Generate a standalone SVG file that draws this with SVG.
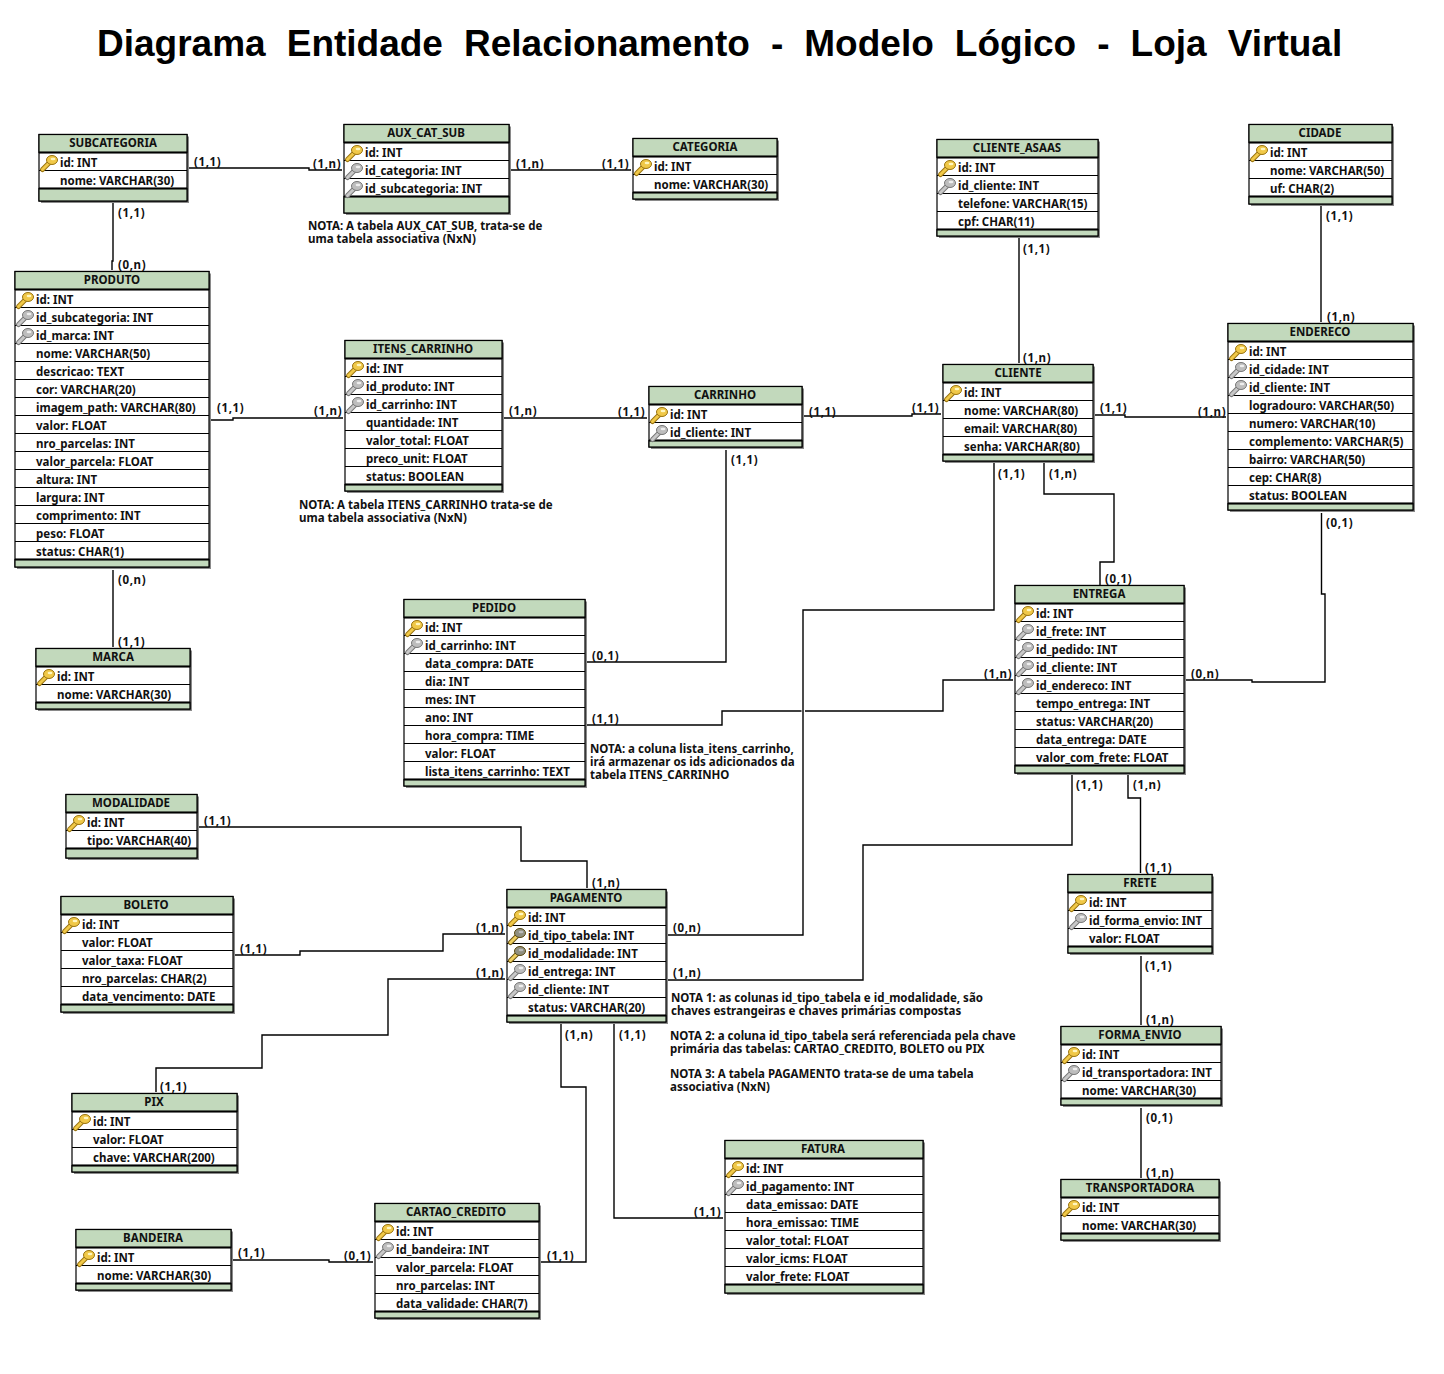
<svg xmlns="http://www.w3.org/2000/svg" xmlns:xlink="http://www.w3.org/1999/xlink" width="1444" height="1374" viewBox="0 0 1444 1374">
<style>
text{font-family:"Noto Sans","Liberation Sans",sans-serif;font-weight:700;font-size:11.5px;fill:#111}
.title{font-family:"Liberation Sans",Arial,sans-serif;font-size:37px;word-spacing:10.8px;fill:#000}
#labels text{letter-spacing:.6px}
.h{text-anchor:middle}
.sh{fill:#8a8a8a}
.bd{fill:#fff;stroke:#000;stroke-width:1.2}
.hd{fill:#c2d9bc;stroke:#000;stroke-width:1.2}
.thin{fill:none;stroke:#000;stroke-width:1.2}
.thick{fill:none;stroke:#000;stroke-width:2.2}
#connectors path{fill:none;stroke:#000;stroke-width:1.4}
.kp{stroke:#9a7410;fill:#f0c848}
.kf{stroke:#777;fill:#bdbdbd}
</style>
<defs>
<g id="pk"><path d="M1.5 6.5 L8 0" stroke="#9a7410" stroke-width="5" stroke-linecap="round" fill="none"/><path d="M1.5 6.5 L8 0" stroke="#f0c848" stroke-width="3" stroke-linecap="round" fill="none"/><ellipse class="kp" cx="11" cy="-3" rx="5.5" ry="4.5"/><ellipse cx="12" cy="-4" rx="2.4" ry="1.3" fill="#fff6c0"/></g>
<g id="fk"><path d="M1.5 6.5 L8 0" stroke="#777" stroke-width="5" stroke-linecap="round" fill="none"/><path d="M1.5 6.5 L8 0" stroke="#c8c8c8" stroke-width="3" stroke-linecap="round" fill="none"/><ellipse class="kf" cx="11" cy="-3" rx="5.5" ry="4.5"/><ellipse cx="12" cy="-4" rx="2.4" ry="1.3" fill="#eee"/></g>
<g id="pf"><path d="M1.5 6.5 L8 0" stroke="#6b5410" stroke-width="5" stroke-linecap="round" fill="none"/><path d="M1.5 6.5 L8 0" stroke="#f0d060" stroke-width="3" stroke-linecap="round" fill="none"/><ellipse cx="11" cy="-3" rx="5.5" ry="4.5" fill="#8f8f80" stroke="#5b4a10"/><ellipse cx="12" cy="-4" rx="2.4" ry="1.3" fill="#bbb"/></g>
</defs>
<rect width="1444" height="1374" fill="#fff"/>
<text class="title" x="97" y="56">Diagrama Entidade Relacionamento - Modelo Lógico - Loja Virtual</text>

<g id="connectors">
<path d="M189 168H309V170H342"/>
<path d="M113 203V261H112V270"/>
<path d="M511 170H631"/>
<path d="M1019 238V363"/>
<path d="M1321 206V322"/>
<path d="M211 420H233V418H343"/>
<path d="M504 418H647"/>
<path d="M804 416H912V414H941"/>
<path d="M1095 415H1125V417H1226"/>
<path d="M113 570V647"/>
<path d="M726 450V662H587"/>
<path d="M587 725H722V711H801.5M805 711H943V680H1013"/>
<path d="M994 463V610H803V935H668"/>
<path d="M1044 463V494H1114V562H1100V585"/>
<path d="M1321.5 513V594H1325V682H1252V680H1186"/>
<path d="M1072 775V845H863V980H668"/>
<path d="M1128 775V798H1140.5V873"/>
<path d="M1141 956V1025"/>
<path d="M1141 1108V1178"/>
<path d="M199 827H521V861H587V888"/>
<path d="M235 955H300V951H443V934H505"/>
<path d="M505 979H388V1035H262V1068H156V1092"/>
<path d="M561 1024V1087H586V1262H541"/>
<path d="M614 1024V1218H723"/>
<path d="M233 1260H329V1262H373"/>
</g>

<g id="labels">
<text x="194" y="166">(1,1)</text><text x="313" y="168">(1,n)</text><text x="118" y="217">(1,1)</text><text x="118" y="269">(0,n)</text>
<text x="516" y="168">(1,n)</text><text x="602" y="168">(1,1)</text><text x="1023" y="253">(1,1)</text><text x="1023" y="362">(1,n)</text>
<text x="1326" y="220">(1,1)</text><text x="1327" y="321">(1,n)</text><text x="217" y="412">(1,1)</text><text x="314" y="415">(1,n)</text>
<text x="509" y="415">(1,n)</text><text x="618" y="416">(1,1)</text><text x="809" y="416">(1,1)</text><text x="912" y="412">(1,1)</text>
<text x="1100" y="412">(1,1)</text><text x="1198" y="416">(1,n)</text><text x="731" y="464">(1,1)</text><text x="998" y="478">(1,1)</text>
<text x="1049" y="478">(1,n)</text><text x="1105" y="583">(0,1)</text><text x="1326" y="527">(0,1)</text><text x="118" y="584">(0,n)</text>
<text x="118" y="646">(1,1)</text><text x="592" y="660">(0,1)</text><text x="592" y="723">(1,1)</text><text x="984" y="678">(1,n)</text>
<text x="1191" y="678">(0,n)</text><text x="1076" y="789">(1,1)</text><text x="1133" y="789">(1,n)</text><text x="1145" y="872">(1,1)</text>
<text x="1145" y="970">(1,1)</text><text x="1146" y="1024">(1,n)</text><text x="1146" y="1122">(0,1)</text><text x="1146" y="1177">(1,n)</text>
<text x="204" y="825">(1,1)</text><text x="592" y="887">(1,n)</text><text x="240" y="953">(1,1)</text><text x="476" y="932">(1,n)</text>
<text x="476" y="977">(1,n)</text><text x="673" y="932">(0,n)</text><text x="673" y="977">(1,n)</text><text x="565" y="1039">(1,n)</text>
<text x="619" y="1039">(1,1)</text><text x="160" y="1091">(1,1)</text><text x="238" y="1257">(1,1)</text><text x="344" y="1260">(0,1)</text>
<text x="547" y="1260">(1,1)</text><text x="694" y="1216">(1,1)</text>
</g>

<g id="notes">
<text x="308" y="230">NOTA: A tabela AUX_CAT_SUB, trata-se de</text><text x="308" y="243">uma tabela associativa (NxN)</text>
<text x="299" y="509">NOTA: A tabela ITENS_CARRINHO trata-se de</text><text x="299" y="522">uma tabela associativa (NxN)</text>
<text x="590" y="753">NOTA: a coluna lista_itens_carrinho,</text><text x="590" y="766">irá armazenar os ids adicionados da</text><text x="590" y="779">tabela ITENS_CARRINHO</text>
<text x="671" y="1002">NOTA 1: as colunas id_tipo_tabela e id_modalidade, são</text><text x="671" y="1015">chaves estrangeiras e chaves primárias compostas</text>
<text x="670" y="1040">NOTA 2: a coluna id_tipo_tabela será referenciada pela chave</text><text x="670" y="1053">primária das tabelas: CARTAO_CREDITO, BOLETO ou PIX</text>
<text x="670" y="1078">NOTA 3: A tabela PAGAMENTO trata-se de uma tabela</text><text x="670" y="1091">associativa (NxN)</text>
</g>

<g id="subcategoria"><rect class="sh" x="41" y="136.5" width="148" height="66.5"/><rect class="bd" x="39" y="134.5" width="148" height="66.5"/><rect class="hd" x="39" y="134.5" width="148" height="18"/><rect class="hd" x="39" y="188.5" width="148" height="12.5"/><path class="thin" d="M39 170.5H187"/><path class="thick" d="M39 152.5H187M39 188.5H187"/>
<text class="h" x="113" y="147">SUBCATEGORIA</text><use href="#pk" x="41" y="163"/><text x="60" y="167">id: INT</text><text x="60" y="185">nome: VARCHAR(30)</text></g>

<g id="aux_cat_sub"><rect class="sh" x="346" y="126.5" width="165" height="88.5"/><rect class="bd" x="344" y="124.5" width="165" height="88.5"/><rect class="hd" x="344" y="124.5" width="165" height="18"/><rect class="hd" x="344" y="196.5" width="165" height="16.5"/><path class="thin" d="M344 160.5H509M344 178.5H509"/><path class="thick" d="M344 142.5H509M344 196.5H509"/>
<text class="h" x="426" y="137">AUX_CAT_SUB</text><use href="#pk" x="346" y="153"/><use href="#fk" x="346" y="171"/><use href="#fk" x="346" y="189"/><text x="365" y="157">id: INT</text><text x="365" y="175">id_categoria: INT</text><text x="365" y="193">id_subcategoria: INT</text></g>

<g id="categoria"><rect class="sh" x="635" y="140.5" width="144" height="60.5"/><rect class="bd" x="633" y="138.5" width="144" height="60.5"/><rect class="hd" x="633" y="138.5" width="144" height="18"/><rect class="hd" x="633" y="192.5" width="144" height="6.5"/><path class="thin" d="M633 174.5H777"/><path class="thick" d="M633 156.5H777M633 192.5H777"/>
<text class="h" x="705" y="151">CATEGORIA</text><use href="#pk" x="635" y="167"/><text x="654" y="171">id: INT</text><text x="654" y="189">nome: VARCHAR(30)</text></g>

<g id="cliente_asaas"><rect class="sh" x="939" y="141.5" width="161" height="96.5"/><rect class="bd" x="937" y="139.5" width="161" height="96.5"/><rect class="hd" x="937" y="139.5" width="161" height="18"/><rect class="hd" x="937" y="229.5" width="161" height="6.5"/><path class="thin" d="M937 175.5H1098M937 193.5H1098M937 211.5H1098"/><path class="thick" d="M937 157.5H1098M937 229.5H1098"/>
<text class="h" x="1017" y="152">CLIENTE_ASAAS</text><use href="#pk" x="939" y="168"/><use href="#fk" x="939" y="186"/><text x="958" y="172">id: INT</text><text x="958" y="190">id_cliente: INT</text><text x="958" y="208">telefone: VARCHAR(15)</text><text x="958" y="226">cpf: CHAR(11)</text></g>

<g id="cidade"><rect class="sh" x="1251" y="126.5" width="143" height="79.5"/><rect class="bd" x="1249" y="124.5" width="143" height="79.5"/><rect class="hd" x="1249" y="124.5" width="143" height="18"/><rect class="hd" x="1249" y="196.5" width="143" height="7.5"/><path class="thin" d="M1249 160.5H1392M1249 178.5H1392"/><path class="thick" d="M1249 142.5H1392M1249 196.5H1392"/>
<text class="h" x="1320" y="137">CIDADE</text><use href="#pk" x="1251" y="153"/><text x="1270" y="157">id: INT</text><text x="1270" y="175">nome: VARCHAR(50)</text><text x="1270" y="193">uf: CHAR(2)</text></g>

<g id="produto"><rect class="sh" x="17" y="273.5" width="194" height="295.5"/><rect class="bd" x="15" y="271.5" width="194" height="295.5"/><rect class="hd" x="15" y="271.5" width="194" height="18"/><rect class="hd" x="15" y="559.5" width="194" height="7.5"/><path class="thin" d="M15 307.5H209M15 325.5H209M15 343.5H209M15 361.5H209M15 379.5H209M15 397.5H209M15 415.5H209M15 433.5H209M15 451.5H209M15 469.5H209M15 487.5H209M15 505.5H209M15 523.5H209M15 541.5H209"/><path class="thick" d="M15 289.5H209M15 559.5H209"/>
<text class="h" x="112" y="284">PRODUTO</text><use href="#pk" x="17" y="300"/><use href="#fk" x="17" y="318"/><use href="#fk" x="17" y="336"/>
<text x="36" y="304">id: INT</text><text x="36" y="322">id_subcategoria: INT</text><text x="36" y="340">id_marca: INT</text><text x="36" y="358">nome: VARCHAR(50)</text><text x="36" y="376">descricao: TEXT</text><text x="36" y="394">cor: VARCHAR(20)</text><text x="36" y="412">imagem_path: VARCHAR(80)</text><text x="36" y="430">valor: FLOAT</text><text x="36" y="448">nro_parcelas: INT</text><text x="36" y="466">valor_parcela: FLOAT</text><text x="36" y="484">altura: INT</text><text x="36" y="502">largura: INT</text><text x="36" y="520">comprimento: INT</text><text x="36" y="538">peso: FLOAT</text><text x="36" y="556">status: CHAR(1)</text></g>

<g id="itens_carrinho"><rect class="sh" x="347" y="342.5" width="157" height="150.5"/><rect class="bd" x="345" y="340.5" width="157" height="150.5"/><rect class="hd" x="345" y="340.5" width="157" height="18"/><rect class="hd" x="345" y="484.5" width="157" height="6.5"/><path class="thin" d="M345 376.5H502M345 394.5H502M345 412.5H502M345 430.5H502M345 448.5H502M345 466.5H502"/><path class="thick" d="M345 358.5H502M345 484.5H502"/>
<text class="h" x="423" y="353">ITENS_CARRINHO</text><use href="#pk" x="347" y="369"/><use href="#fk" x="347" y="387"/><use href="#fk" x="347" y="405"/>
<text x="366" y="373">id: INT</text><text x="366" y="391">id_produto: INT</text><text x="366" y="409">id_carrinho: INT</text><text x="366" y="427">quantidade: INT</text><text x="366" y="445">valor_total: FLOAT</text><text x="366" y="463">preco_unit: FLOAT</text><text x="366" y="481">status: BOOLEAN</text></g>

<g id="carrinho"><rect class="sh" x="651" y="388.5" width="153" height="60.5"/><rect class="bd" x="649" y="386.5" width="153" height="60.5"/><rect class="hd" x="649" y="386.5" width="153" height="18"/><rect class="hd" x="649" y="440.5" width="153" height="6.5"/><path class="thin" d="M649 422.5H802"/><path class="thick" d="M649 404.5H802M649 440.5H802"/>
<text class="h" x="725" y="399">CARRINHO</text><use href="#pk" x="651" y="415"/><use href="#fk" x="651" y="433"/><text x="670" y="419">id: INT</text><text x="670" y="437">id_cliente: INT</text></g>

<g id="cliente"><rect class="sh" x="945" y="366.5" width="150" height="96.5"/><rect class="bd" x="943" y="364.5" width="150" height="96.5"/><rect class="hd" x="943" y="364.5" width="150" height="18"/><rect class="hd" x="943" y="454.5" width="150" height="6.5"/><path class="thin" d="M943 400.5H1093M943 418.5H1093M943 436.5H1093"/><path class="thick" d="M943 382.5H1093M943 454.5H1093"/>
<text class="h" x="1018" y="377">CLIENTE</text><use href="#pk" x="945" y="393"/><text x="964" y="397">id: INT</text><text x="964" y="415">nome: VARCHAR(80)</text><text x="964" y="433">email: VARCHAR(80)</text><text x="964" y="451">senha: VARCHAR(80)</text></g>

<g id="endereco"><rect class="sh" x="1230" y="325.5" width="185" height="186.5"/><rect class="bd" x="1228" y="323.5" width="185" height="186.5"/><rect class="hd" x="1228" y="323.5" width="185" height="18"/><rect class="hd" x="1228" y="503.5" width="185" height="6.5"/><path class="thin" d="M1228 359.5H1413M1228 377.5H1413M1228 395.5H1413M1228 413.5H1413M1228 431.5H1413M1228 449.5H1413M1228 467.5H1413M1228 485.5H1413"/><path class="thick" d="M1228 341.5H1413M1228 503.5H1413"/>
<text class="h" x="1320" y="336">ENDERECO</text><use href="#pk" x="1230" y="352"/><use href="#fk" x="1230" y="370"/><use href="#fk" x="1230" y="388"/>
<text x="1249" y="356">id: INT</text><text x="1249" y="374">id_cidade: INT</text><text x="1249" y="392">id_cliente: INT</text><text x="1249" y="410">logradouro: VARCHAR(50)</text><text x="1249" y="428">numero: VARCHAR(10)</text><text x="1249" y="446">complemento: VARCHAR(5)</text><text x="1249" y="464">bairro: VARCHAR(50)</text><text x="1249" y="482">cep: CHAR(8)</text><text x="1249" y="500">status: BOOLEAN</text></g>

<g id="pedido"><rect class="sh" x="406" y="601.5" width="181" height="186.5"/><rect class="bd" x="404" y="599.5" width="181" height="186.5"/><rect class="hd" x="404" y="599.5" width="181" height="18"/><rect class="hd" x="404" y="779.5" width="181" height="6.5"/><path class="thin" d="M404 635.5H585M404 653.5H585M404 671.5H585M404 689.5H585M404 707.5H585M404 725.5H585M404 743.5H585M404 761.5H585"/><path class="thick" d="M404 617.5H585M404 779.5H585"/>
<text class="h" x="494" y="612">PEDIDO</text><use href="#pk" x="406" y="628"/><use href="#fk" x="406" y="646"/>
<text x="425" y="632">id: INT</text><text x="425" y="650">id_carrinho: INT</text><text x="425" y="668">data_compra: DATE</text><text x="425" y="686">dia: INT</text><text x="425" y="704">mes: INT</text><text x="425" y="722">ano: INT</text><text x="425" y="740">hora_compra: TIME</text><text x="425" y="758">valor: FLOAT</text><text x="425" y="776">lista_itens_carrinho: TEXT</text></g>

<g id="entrega"><rect class="sh" x="1017" y="587.5" width="169" height="187.5"/><rect class="bd" x="1015" y="585.5" width="169" height="187.5"/><rect class="hd" x="1015" y="585.5" width="169" height="18"/><rect class="hd" x="1015" y="765.5" width="169" height="7.5"/><path class="thin" d="M1015 621.5H1184M1015 639.5H1184M1015 657.5H1184M1015 675.5H1184M1015 693.5H1184M1015 711.5H1184M1015 729.5H1184M1015 747.5H1184"/><path class="thick" d="M1015 603.5H1184M1015 765.5H1184"/>
<text class="h" x="1099" y="598">ENTREGA</text><use href="#pk" x="1017" y="614"/><use href="#fk" x="1017" y="632"/><use href="#fk" x="1017" y="650"/><use href="#fk" x="1017" y="668"/><use href="#fk" x="1017" y="686"/>
<text x="1036" y="618">id: INT</text><text x="1036" y="636">id_frete: INT</text><text x="1036" y="654">id_pedido: INT</text><text x="1036" y="672">id_cliente: INT</text><text x="1036" y="690">id_endereco: INT</text><text x="1036" y="708">tempo_entrega: INT</text><text x="1036" y="726">status: VARCHAR(20)</text><text x="1036" y="744">data_entrega: DATE</text><text x="1036" y="762">valor_com_frete: FLOAT</text></g>

<g id="marca"><rect class="sh" x="38" y="650.5" width="154" height="60.5"/><rect class="bd" x="36" y="648.5" width="154" height="60.5"/><rect class="hd" x="36" y="648.5" width="154" height="18"/><rect class="hd" x="36" y="702.5" width="154" height="6.5"/><path class="thin" d="M36 684.5H190"/><path class="thick" d="M36 666.5H190M36 702.5H190"/>
<text class="h" x="113" y="661">MARCA</text><use href="#pk" x="38" y="677"/><text x="57" y="681">id: INT</text><text x="57" y="699">nome: VARCHAR(30)</text></g>

<g id="modalidade"><rect class="sh" x="68" y="796.5" width="131" height="63.5"/><rect class="bd" x="66" y="794.5" width="131" height="63.5"/><rect class="hd" x="66" y="794.5" width="131" height="18"/><rect class="hd" x="66" y="848.5" width="131" height="9.5"/><path class="thin" d="M66 830.5H197"/><path class="thick" d="M66 812.5H197M66 848.5H197"/>
<text class="h" x="131" y="807">MODALIDADE</text><use href="#pk" x="68" y="823"/><text x="87" y="827">id: INT</text><text x="87" y="845">tipo: VARCHAR(40)</text></g>

<g id="boleto"><rect class="sh" x="63" y="898.5" width="172" height="115.5"/><rect class="bd" x="61" y="896.5" width="172" height="115.5"/><rect class="hd" x="61" y="896.5" width="172" height="18"/><rect class="hd" x="61" y="1004.5" width="172" height="7.5"/><path class="thin" d="M61 932.5H233M61 950.5H233M61 968.5H233M61 986.5H233"/><path class="thick" d="M61 914.5H233M61 1004.5H233"/>
<text class="h" x="146" y="909">BOLETO</text><use href="#pk" x="63" y="925"/><text x="82" y="929">id: INT</text><text x="82" y="947">valor: FLOAT</text><text x="82" y="965">valor_taxa: FLOAT</text><text x="82" y="983">nro_parcelas: CHAR(2)</text><text x="82" y="1001">data_vencimento: DATE</text></g>

<g id="pagamento"><rect class="sh" x="509" y="891.5" width="159" height="132.5"/><rect class="bd" x="507" y="889.5" width="159" height="132.5"/><rect class="hd" x="507" y="889.5" width="159" height="18"/><rect class="hd" x="507" y="1015.5" width="159" height="6.5"/><path class="thin" d="M507 925.5H666M507 943.5H666M507 961.5H666M507 979.5H666M507 997.5H666"/><path class="thick" d="M507 907.5H666M507 1015.5H666"/>
<text class="h" x="586" y="902">PAGAMENTO</text><use href="#pk" x="509" y="918"/><use href="#pf" x="509" y="936"/><use href="#pf" x="509" y="954"/><use href="#fk" x="509" y="972"/><use href="#fk" x="509" y="990"/>
<text x="528" y="922">id: INT</text><text x="528" y="940">id_tipo_tabela: INT</text><text x="528" y="958">id_modalidade: INT</text><text x="528" y="976">id_entrega: INT</text><text x="528" y="994">id_cliente: INT</text><text x="528" y="1012">status: VARCHAR(20)</text></g>

<g id="pix"><rect class="sh" x="74" y="1095.5" width="165" height="78.5"/><rect class="bd" x="72" y="1093.5" width="165" height="78.5"/><rect class="hd" x="72" y="1093.5" width="165" height="18"/><rect class="hd" x="72" y="1165.5" width="165" height="6.5"/><path class="thin" d="M72 1129.5H237M72 1147.5H237"/><path class="thick" d="M72 1111.5H237M72 1165.5H237"/>
<text class="h" x="154" y="1106">PIX</text><use href="#pk" x="74" y="1122"/><text x="93" y="1126">id: INT</text><text x="93" y="1144">valor: FLOAT</text><text x="93" y="1162">chave: VARCHAR(200)</text></g>

<g id="frete"><rect class="sh" x="1070" y="876.5" width="144" height="78.5"/><rect class="bd" x="1068" y="874.5" width="144" height="78.5"/><rect class="hd" x="1068" y="874.5" width="144" height="18"/><rect class="hd" x="1068" y="946.5" width="144" height="6.5"/><path class="thin" d="M1068 910.5H1212M1068 928.5H1212"/><path class="thick" d="M1068 892.5H1212M1068 946.5H1212"/>
<text class="h" x="1140" y="887">FRETE</text><use href="#pk" x="1070" y="903"/><use href="#fk" x="1070" y="921"/><text x="1089" y="907">id: INT</text><text x="1089" y="925">id_forma_envio: INT</text><text x="1089" y="943">valor: FLOAT</text></g>

<g id="forma_envio"><rect class="sh" x="1063" y="1028.5" width="160" height="78.5"/><rect class="bd" x="1061" y="1026.5" width="160" height="78.5"/><rect class="hd" x="1061" y="1026.5" width="160" height="18"/><rect class="hd" x="1061" y="1098.5" width="160" height="6.5"/><path class="thin" d="M1061 1062.5H1221M1061 1080.5H1221"/><path class="thick" d="M1061 1044.5H1221M1061 1098.5H1221"/>
<text class="h" x="1140" y="1039">FORMA_ENVIO</text><use href="#pk" x="1063" y="1055"/><use href="#fk" x="1063" y="1073"/><text x="1082" y="1059">id: INT</text><text x="1082" y="1077">id_transportadora: INT</text><text x="1082" y="1095">nome: VARCHAR(30)</text></g>

<g id="transportadora"><rect class="sh" x="1063" y="1181.5" width="158" height="60.5"/><rect class="bd" x="1061" y="1179.5" width="158" height="60.5"/><rect class="hd" x="1061" y="1179.5" width="158" height="18"/><rect class="hd" x="1061" y="1233.5" width="158" height="6.5"/><path class="thin" d="M1061 1215.5H1219"/><path class="thick" d="M1061 1197.5H1219M1061 1233.5H1219"/>
<text class="h" x="1140" y="1192">TRANSPORTADORA</text><use href="#pk" x="1063" y="1208"/><text x="1082" y="1212">id: INT</text><text x="1082" y="1230">nome: VARCHAR(30)</text></g>

<g id="fatura"><rect class="sh" x="727" y="1142.5" width="198" height="152.5"/><rect class="bd" x="725" y="1140.5" width="198" height="152.5"/><rect class="hd" x="725" y="1140.5" width="198" height="18"/><rect class="hd" x="725" y="1284.5" width="198" height="8.5"/><path class="thin" d="M725 1176.5H923M725 1194.5H923M725 1212.5H923M725 1230.5H923M725 1248.5H923M725 1266.5H923"/><path class="thick" d="M725 1158.5H923M725 1284.5H923"/>
<text class="h" x="823" y="1153">FATURA</text><use href="#pk" x="727" y="1169"/><use href="#fk" x="727" y="1187"/><text x="746" y="1173">id: INT</text><text x="746" y="1191">id_pagamento: INT</text><text x="746" y="1209">data_emissao: DATE</text><text x="746" y="1227">hora_emissao: TIME</text><text x="746" y="1245">valor_total: FLOAT</text><text x="746" y="1263">valor_icms: FLOAT</text><text x="746" y="1281">valor_frete: FLOAT</text></g>

<g id="cartao_credito"><rect class="sh" x="377" y="1205.5" width="164" height="114.5"/><rect class="bd" x="375" y="1203.5" width="164" height="114.5"/><rect class="hd" x="375" y="1203.5" width="164" height="18"/><rect class="hd" x="375" y="1311.5" width="164" height="6.5"/><path class="thin" d="M375 1239.5H539M375 1257.5H539M375 1275.5H539M375 1293.5H539"/><path class="thick" d="M375 1221.5H539M375 1311.5H539"/>
<text class="h" x="456" y="1216">CARTAO_CREDITO</text><use href="#pk" x="377" y="1232"/><use href="#fk" x="377" y="1250"/><text x="396" y="1236">id: INT</text><text x="396" y="1254">id_bandeira: INT</text><text x="396" y="1272">valor_parcela: FLOAT</text><text x="396" y="1290">nro_parcelas: INT</text><text x="396" y="1308">data_validade: CHAR(7)</text></g>

<g id="bandeira"><rect class="sh" x="78" y="1231.5" width="155" height="60.5"/><rect class="bd" x="76" y="1229.5" width="155" height="60.5"/><rect class="hd" x="76" y="1229.5" width="155" height="18"/><rect class="hd" x="76" y="1283.5" width="155" height="6.5"/><path class="thin" d="M76 1265.5H231"/><path class="thick" d="M76 1247.5H231M76 1283.5H231"/>
<text class="h" x="153" y="1242">BANDEIRA</text><use href="#pk" x="78" y="1258"/><text x="97" y="1262">id: INT</text><text x="97" y="1280">nome: VARCHAR(30)</text></g>
</svg>
